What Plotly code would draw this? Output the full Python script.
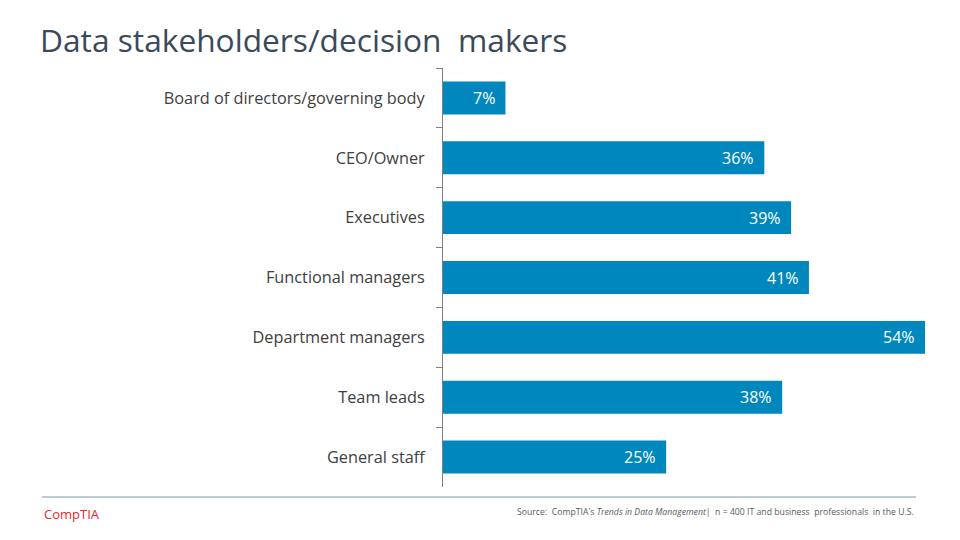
import plotly.graph_objects as go

categories = ["Board of directors/governing body", "CEO/Owner", "Executives",
              "Functional managers", "Department managers", "Team leads", "General staff"]
values = [7, 36, 39, 41, 54, 38, 25]
labels = [f"{v}%" for v in values]

# page is offset by the 8px body margin; compensate
L, R, T, B = 435, 43, 60, 61
PW = 960 - L - R
PH = 540 - T - B

fig = go.Figure(go.Bar(
    x=values, y=categories, orientation="h",
    marker=dict(color="#0088BE", line=dict(width=0)),
    hoverinfo="skip",
))

annotations = [
    dict(x=v, y=c, xref="x", yref="y", text=t, showarrow=False,
         xanchor="right", yanchor="middle", xshift=-8,
         font=dict(color="white", size=16, family="Open Sans"))
    for c, v, t in zip(categories, values, labels)
]

annotations += [
    dict(text="CompTIA", xref="paper", yref="paper", x=(34 - L) / PW, y=-27 / PH,
         xanchor="left", yanchor="middle", showarrow=False,
         font=dict(size=13, color="#E8262B", family="Open Sans")),
    dict(text="Source:  CompTIA's <i>Trends in Data Management</i>|  n = 400 IT and business  professionals  in the U.S.",
         xref="paper", yref="paper", x=(908 - L) / PW, y=-25 / PH,
         xanchor="right", yanchor="middle", showarrow=False,
         font=dict(size=8.7, color="#595959", family="Open Sans")),
]

fig.update_layout(
    width=960, height=540,
    margin=dict(l=L, r=R, t=T, b=B),
    paper_bgcolor="white", plot_bgcolor="white",
    bargap=0.45,
    showlegend=False,
    font=dict(family="Open Sans", color="#404040"),
    xaxis=dict(range=[0, 54], visible=False, fixedrange=True),
    yaxis=dict(autorange="reversed", showline=True, linecolor="#7f7f7f", linewidth=1,
               ticks="outside", tickson="boundaries", ticklen=6, tickcolor="#7f7f7f",
               tickfont=dict(size=16.3, color="#404040", family="Open Sans"),
               ticklabelstandoff=14, showgrid=False),
    title=dict(text="Data stakeholders/decision&nbsp; makers", x=32 / 960, xanchor="left",
               y=0.918, yanchor="bottom",
               font=dict(size=31.7, color="#3B4A5B", family="Open Sans")),
    shapes=[dict(type="line", xref="paper", yref="paper", x0=(34 - L) / PW, x1=(908 - L) / PW,
                 y0=-10 / PH, y1=-10 / PH, line=dict(color="#A9B8C6", width=1.5))],
    annotations=annotations,
)

fig.write_html("out.html")
